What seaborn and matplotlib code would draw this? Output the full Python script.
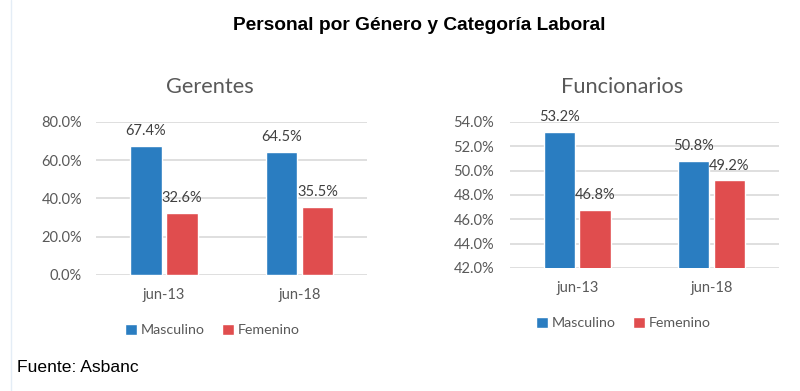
#bibliotecas
import pandas as pd
import matplotlib.pyplot as plt
import seaborn as sns
from matplotlib.patches import Patch
from matplotlib.lines import Line2D
from matplotlib.ticker import PercentFormatter

#datos
periodos = ['jun-13', 'jun-18']
generos = ['Masculino', 'Femenino']
gerentes_masc = [67.4, 64.5]
gerentes_fem = [32.6, 35.5]
funcionarios_masc = [53.2, 50.8]
funcionarios_fem = [46.8, 49.2]
colores = ['#2a7dc1', '#e04d4e']

def armar(masc, fem):
    return pd.DataFrame({
        'periodo': periodos * 2,
        'genero': [generos[0]] * 2 + [generos[1]] * 2,
        'valor': masc + fem,
    })

df_ger = armar(gerentes_masc, gerentes_fem)
df_fun = armar(funcionarios_masc, funcionarios_fem)

sns.set_style('white')
plt.rcParams['font.family'] = ['Lato', 'DejaVu Sans']

fig = plt.figure(figsize=(8, 3.91), dpi=100)
ax1 = fig.add_axes([0.12, 0.2967, 0.339, 0.3913])
ax2 = fig.add_axes([0.6375, 0.3146, 0.336, 0.3734])

gris = '#595959'

def dibujar(ax, df, ylim, paso, ypad):
    sns.barplot(data=df, x='periodo', y='valor', hue='genero', palette=colores,
                width=0.53, gap=0.12, ax=ax, legend=False, saturation=1)
    ax.set_ylim(*ylim)
    ax.set_xlim(-0.5, 1.5)
    ax.set_yticks([ylim[0] + paso * i for i in range(int(round((ylim[1] - ylim[0]) / paso)) + 1)])
    ax.yaxis.set_major_formatter(PercentFormatter(decimals=1))
    ax.grid(axis='y', color='#d9d9d9', linewidth=1.2)
    ax.set_axisbelow(True)
    sns.despine(ax=ax, left=True, bottom=True, top=True, right=True)
    ax.tick_params(axis='y', length=0, pad=ypad, labelsize=10.5, labelcolor=gris)
    ax.tick_params(axis='x', length=0, pad=9.5, labelsize=10.5, labelcolor=gris)
    ax.set_xlabel('')
    ax.set_ylabel('')
    for cont in ax.containers:
        ax.bar_label(cont, fmt='%.1f%%', padding=5.5, fontsize=10.5, color='#404040')

dibujar(ax1, df_ger, (0, 80), 20, 10)
dibujar(ax2, df_fun, (42, 54), 2, 11.5)

#titulos
fig.text(0.524, 0.935, 'Personal por Género y Categoría Laboral', ha='center', va='center',
         fontsize=13.8, fontweight='bold', family=['Liberation Sans', 'DejaVu Sans'], color='black')
fig.text(210 / 800, 1 - 87 / 391, 'Gerentes', ha='center', va='center', fontsize=15.7, color=gris)
fig.text(622 / 800, 1 - 87 / 391, 'Funcionarios', ha='center', va='center', fontsize=15.7, color=gris)

#leyendas
handles = [Patch(facecolor=c) for c in colores]
for cx, cy in [(212 / 800, 1 - 330 / 391), (623 / 800, 1 - 323 / 391)]:
    fig.legend(handles, generos, loc='center', bbox_to_anchor=(cx, cy), ncol=2, frameon=False,
               handlelength=0.85, handleheight=0.85, handletextpad=0.25, columnspacing=1.2,
               fontsize=10.3, labelcolor=gris)

#linea vertical tenue y fuente
fig.add_artist(Line2D([11 / 800, 11 / 800], [0, 1], color='#e4edf6', linewidth=1))
fig.text(17 / 800, 1 - 367 / 391, 'Fuente: Asbanc', ha='left', va='center',
         fontsize=12.6, family=['Liberation Sans', 'DejaVu Sans'], color='black')

fig.savefig('out.png', dpi=100)
